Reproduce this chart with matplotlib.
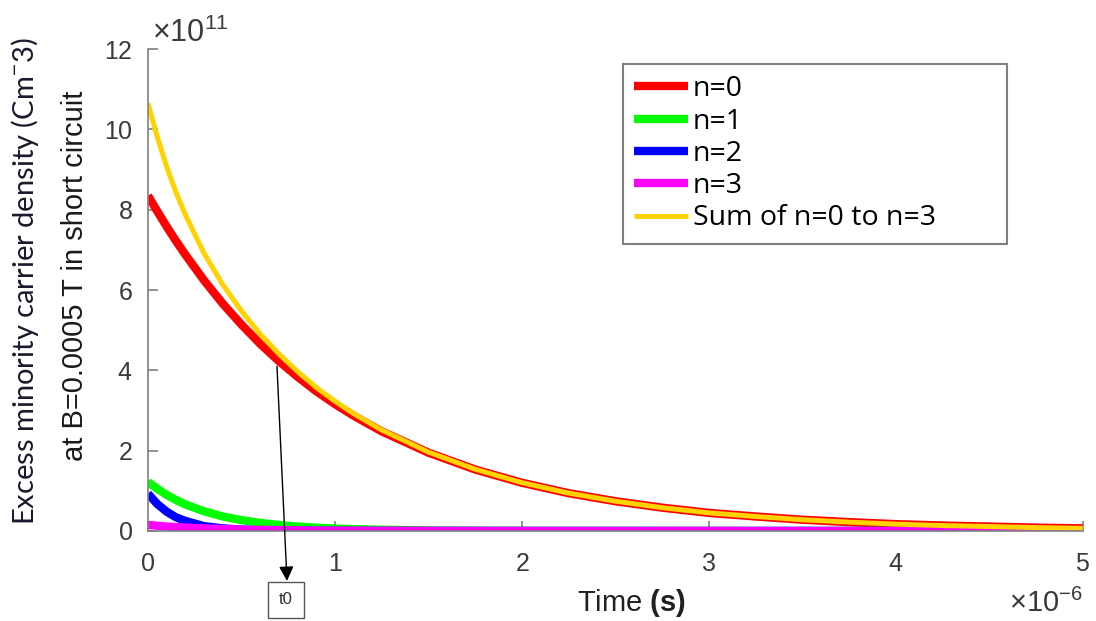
import numpy as np
import matplotlib
matplotlib.use("Agg")
from matplotlib import pyplot as plt
from matplotlib.ticker import ScalarFormatter

plt.rcParams['font.family'] = ['Liberation Sans', 'DejaVu Sans']
plt.rcParams['mathtext.fontset'] = 'custom'
plt.rcParams['mathtext.rm'] = 'Liberation Sans'
plt.rcParams['mathtext.bf'] = 'Liberation Sans:bold'

# time in microseconds (x 1e-6 s)
time_us = [0, 0.05, 0.1, 0.15, 0.2, 0.3, 0.4, 0.5, 0.6, 0.7, 0.8, 0.9, 1.0,
           1.1, 1.25, 1.5, 1.75, 2.0, 2.25, 2.5, 2.75, 3.0, 3.25, 3.5, 3.75,
           4.0, 4.25, 4.5, 4.75, 5.0]

# carrier density in units of 1e11 cm^-3
n0 = [8.35, 7.96, 7.58, 7.22, 6.88, 6.24, 5.66, 5.14, 4.66, 4.23, 3.84, 3.48,
      3.16, 2.87, 2.48, 1.95, 1.53, 1.20, 0.94, 0.74, 0.58, 0.45, 0.36, 0.28,
      0.22, 0.17, 0.135, 0.11, 0.083, 0.065]
n1 = [1.22, 1.05, 0.90, 0.77, 0.66, 0.49, 0.36, 0.27, 0.20, 0.15, 0.11, 0.08,
      0.06, 0.044, 0.03, 0.013, 0.006, 0.003, 0.002, 0.001, 0, 0, 0, 0, 0,
      0, 0, 0, 0, 0]
n2 = [0.93, 0.67, 0.48, 0.34, 0.25, 0.12, 0.065, 0.033, 0.017, 0.009, 0.005,
      0.002, 0.001, 0, 0, 0, 0, 0, 0, 0, 0, 0, 0, 0, 0, 0, 0, 0, 0, 0]
n3 = [0.15, 0.13, 0.11, 0.098, 0.085, 0.064, 0.048, 0.036, 0.027, 0.02, 0.015,
      0.011, 0.009, 0.007, 0.005, 0.002, 0.001, 0, 0, 0, 0, 0, 0, 0, 0, 0,
      0, 0, 0, 0]

labels = ['n=0', 'n=1', 'n=2', 'n=3', 'Sum of n=0 to n=3']
colors = ['#ff0000', '#00ff00', '#0000ff', '#ff00ff', '#ffd200']

t = np.array(time_us) * 1e-6
series = [np.array(s) * 1e11 for s in (n0, n1, n2, n3)]
total = series[0] + series[1] + series[2] + series[3]

fig = plt.figure(figsize=(10.96, 6.21), dpi=100)
ax = fig.add_axes([0.135, 0.145, 0.853, 0.776])

widths = [6, 6, 6, 6, 3.6]
for s, c, lab, w in zip(series + [total], colors, labels, widths):
    ax.plot(t, s, color=c, lw=w, label=lab, solid_capstyle='butt')

ax.set_xlim(0, 5e-6)
ax.set_ylim(0, 12e11)
ax.set_xticks(np.arange(0, 5.1e-6, 1e-6))
ax.set_yticks(np.arange(0, 12.1e11, 2e11))

grey = '#808080'
txt = '#3a3a3a'
for side in ['top', 'right']:
    ax.spines[side].set_visible(False)
for side in ['left', 'bottom']:
    ax.spines[side].set_color(grey)
    ax.spines[side].set_linewidth(1.2)
ax.tick_params(direction='in', length=7, width=1.2, color=grey,
               labelcolor=txt, labelsize=18)
ax.tick_params(axis='y', pad=11)
ax.tick_params(axis='x', pad=15)

fmt_x = ScalarFormatter(useMathText=True)
fmt_x.set_powerlimits((-6, -6))
fmt_y = ScalarFormatter(useMathText=True)
fmt_y.set_powerlimits((11, 11))
ax.xaxis.set_major_formatter(fmt_x)
ax.yaxis.set_major_formatter(fmt_y)
ax.xaxis.get_offset_text().set_visible(False)
ax.yaxis.get_offset_text().set_visible(False)
fig.text(152 / 1096, 1 - 42 / 621, r'$\times10^{11}$', ha='left',
         va='baseline', fontsize=22, color=txt)
fig.text(1083 / 1096, 1 - 612 / 621, r'$\times10^{-6}$', ha='right',
         va='baseline', fontsize=21, color=txt)

fig.text(631 / 1096, 1 - 603 / 621, r'Time $\mathbf{(s)}$', ha='center',
         va='center', fontsize=21, color='#202020')

fig.text(0.023, 0.547, 'Excess minority carrier density (Cm$^{-}$3)',
         rotation=90, ha='center', va='center', fontsize=21,
         family=['Lato', 'DejaVu Sans'], color='#1a1a2e')
fig.text(0.068, 0.556, 'at B=0.0005 T in short circuit', rotation=90,
         ha='center', va='center', fontsize=21, color='#1a1a1a')

leg = ax.legend(loc='upper left', bbox_to_anchor=(0.508, 0.969, 0.411, 0.0),
                mode='expand', borderaxespad=0, fancybox=False, framealpha=1,
                edgecolor=grey, handlelength=1.9, handletextpad=0.15,
                labelspacing=0.15, borderpad=0.4,
                prop={'family': 'Open Sans', 'size': 20.5})
leg.get_frame().set_linewidth(1.5)

# t0 marker
ax.annotate('', xy=(287 / 1096, 1 - 581 / 621), xycoords='figure fraction',
            xytext=(0.69e-6, 4.1e11), textcoords='data',
            arrowprops=dict(arrowstyle='-|>', color='black', lw=1.0,
                            mutation_scale=22, shrinkA=0, shrinkB=0),
            annotation_clip=False)
fig.text(286 / 1096, 1 - 600 / 621, 't0', ha='center', va='center',
         fontsize=12, color='#303030',
         bbox=dict(boxstyle='square,pad=0.65', fc='white', ec='#555555', lw=1))

fig.savefig('out.png', dpi=100)
